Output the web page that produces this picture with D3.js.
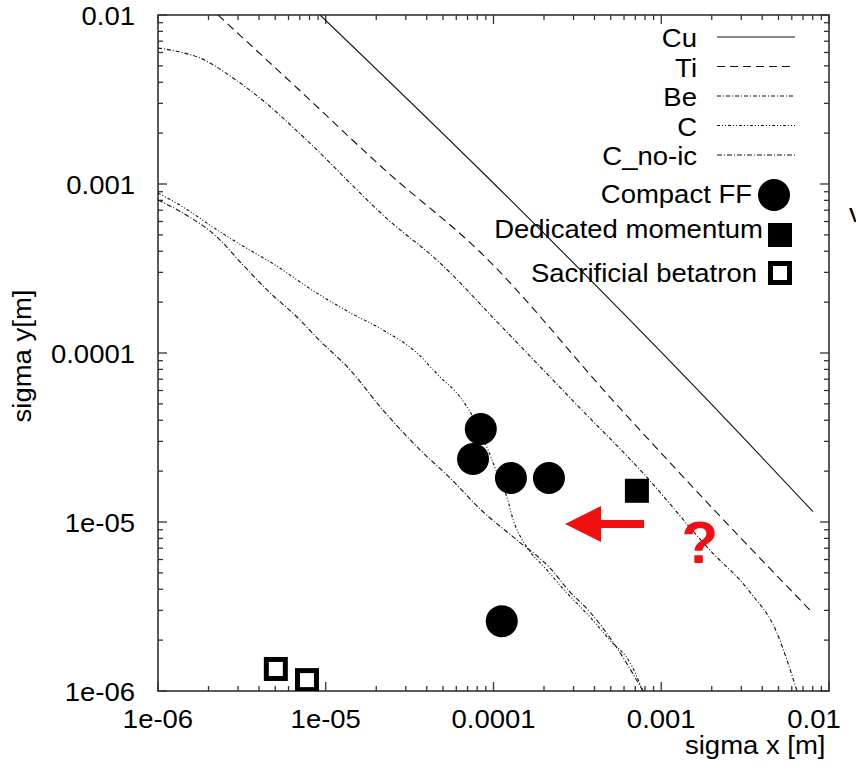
<!DOCTYPE html>
<html>
<head>
<meta charset="utf-8">
<script src="https://cdn.jsdelivr.net/npm/d3@7"></script>
<style>
  body { margin: 0; background: #fff; }
  text { font-family: "Liberation Sans", Arial, Helvetica, sans-serif; fill: #000; }
</style>
</head>
<body>
<div id="chart"></div>
<script>
// tick labels
var xTickLabels = ["1e-06", "1e-05", "0.0001", "0.001", "0.01"];
var yTickLabels = ["1e-06", "1e-05", "0.0001", "0.001", "0.01"];

// curves, [sigma x, sigma y] in metres
var cuCurve = [[9.25e-6, 1.0e-2], [8.32e-5, 1.21e-3], [1.70e-3, 5.87e-5], [8.04e-3, 1.15e-5]];
var tiCurve = [[2.28e-6, 1.0e-2], [6.74e-6, 3.70e-3], [2.32e-5, 1.18e-3], [8.32e-5, 3.96e-4],
               [5.45e-4, 4.92e-5], [2.68e-3, 8.97e-6], [7.71e-3, 3.01e-6]];
var beCurve = [[1.0e-6, 6.38e-3], [1.35e-6, 6.04e-3], [1.78e-6, 5.57e-3], [2.80e-6, 4.24e-3],
               [4.34e-6, 3.05e-3], [6.84e-6, 2.03e-3], [8.87e-6, 1.59e-3], [1.40e-5, 1.01e-3],
               [2.19e-5, 6.56e-4], [4.80e-5, 3.41e-4], [1.09e-4, 1.47e-4], [3.15e-4, 4.92e-5],
               [7.78e-4, 1.95e-5], [1.95e-3, 6.82e-6], [3.38e-3, 3.85e-6], [4.90e-3, 2.20e-6],
               [5.62e-3, 1.52e-6], [6.44e-3, 1.0e-6]];
var cCurve = [[1.0e-6, 8.85e-4], [1.41e-6, 7.31e-4], [2.25e-6, 5.35e-4], [3.53e-6, 4.06e-4],
              [4.47e-6, 3.55e-4], [8.87e-6, 2.26e-4], [1.40e-5, 1.73e-4], [2.19e-5, 1.37e-4],
              [3.50e-5, 1.00e-4], [4.80e-5, 7.21e-5], [6.31e-5, 5.50e-5], [7.55e-5, 4.18e-5],
              [9.27e-5, 2.67e-5], [1.09e-4, 1.77e-5], [1.20e-4, 1.41e-5], [1.31e-4, 1.03e-5],
              [1.58e-4, 7.11e-6], [2.03e-4, 5.35e-6], [2.74e-4, 3.80e-6], [3.76e-4, 2.74e-6],
              [4.94e-4, 2.00e-6], [6.52e-4, 1.47e-6], [7.78e-4, 1.0e-6]];
var cNoIcCurve = [[1.0e-6, 8.04e-4], [1.41e-6, 6.73e-4], [2.25e-6, 4.85e-4], [3.21e-6, 3.32e-4],
                  [4.47e-6, 2.36e-4], [7.02e-6, 1.57e-4], [8.87e-6, 1.23e-4], [1.40e-5, 7.93e-5],
                  [2.19e-5, 4.60e-5], [3.65e-5, 2.67e-5], [5.51e-5, 1.82e-5], [8.65e-5, 1.15e-5],
                  [1.38e-4, 7.82e-6], [2.17e-4, 5.35e-6], [2.86e-4, 3.85e-6], [3.76e-4, 2.93e-6],
                  [5.30e-4, 1.87e-6], [7.78e-4, 1.0e-6]];

// points
var compactFF = [[8.4e-5, 3.55e-5], [7.55e-5, 2.36e-5], [1.27e-4, 1.82e-5], [2.14e-4, 1.82e-5], [1.12e-4, 2.59e-6]];
var dedicatedMomentum = [[7.16e-4, 1.53e-5]];
var sacrificialBetatron = [[5.04e-6, 1.35e-6], [7.73e-6, 1.16e-6]];

// red annotation: arrow from tail to tip, question mark
var arrowTail = [7.9e-4, 9.73e-6], arrowTip = [2.67e-4, 9.73e-6];
var questionAt = [1.70e-3, 5.71e-6];

var W = 856, H = 766;
var plotL = 158, plotR = 829, plotT = 15, plotB = 691;

var svg = d3.select("#chart").append("svg")
  .attr("width", W).attr("height", H);

var x = d3.scaleLog().domain([1e-6, 1e-2]).range([plotL, plotR]);
var y = d3.scaleLog().domain([1e-6, 1e-2]).range([plotB, plotT]);

// helper: Helvetica in the original is a bit wider than Liberation Sans
function label(g, px, py, s, anchor, size) {
  return g.append("text")
    .attr("transform", "translate(" + px + "," + py + ") scale(1.1,1)")
    .attr("text-anchor", anchor)
    .style("font-size", size + "px")
    .text(s);
}

svg.append("clipPath").attr("id", "plotclip")
  .append("rect").attr("x", plotL).attr("y", plotT)
  .attr("width", plotR - plotL).attr("height", plotB - plotT);

// ticks on all four sides, inward
var ticks = x.ticks();
var tg = svg.append("g").attr("stroke", "#333").attr("stroke-width", 1.3);
ticks.forEach(function (t) {
  var major = Math.abs(Math.log10(t) - Math.round(Math.log10(t))) < 1e-9;
  var len = major ? 9 : 5;
  var xp = x(t), yp = y(t);
  tg.append("line").attr("x1", xp).attr("x2", xp).attr("y1", plotB).attr("y2", plotB - len);
  tg.append("line").attr("x1", xp).attr("x2", xp).attr("y1", plotT).attr("y2", plotT + len);
  tg.append("line").attr("y1", yp).attr("y2", yp).attr("x1", plotL).attr("x2", plotL + len);
  tg.append("line").attr("y1", yp).attr("y2", yp).attr("x1", plotR).attr("x2", plotR - len);
});

// frame
svg.append("rect")
  .attr("x", plotL).attr("y", plotT)
  .attr("width", plotR - plotL).attr("height", plotB - plotT)
  .attr("fill", "none").attr("stroke", "#333").attr("stroke-width", 1.6);

// tick labels
var majors = [1e-6, 1e-5, 1e-4, 1e-3, 1e-2];
majors.forEach(function (v, i) {
  var shift = (i == majors.length - 1) ? -15 : 0;
  label(svg, x(v) + shift, 728, xTickLabels[i], "middle", 25);
  label(svg, 135, y(v) + 10, yTickLabels[i], "end", 25);
});

// axis titles
label(svg, 685, 754, "sigma x [m]", "start", 25);
svg.append("text")
  .attr("transform", "translate(31,356) rotate(-90) scale(1.1,1)")
  .attr("text-anchor", "middle")
  .style("font-size", "25px")
  .text("sigma y[m]");

// curves
var line = d3.line()
  .x(function (d) { return x(d[0]); })
  .y(function (d) { return y(d[1]); })
  .curve(d3.curveMonotoneX);

var series = [
  { name: "Cu", data: cuCurve, dash: null },
  { name: "Ti", data: tiCurve, dash: "8,5" },
  { name: "Be", data: beCurve, dash: "4,2,1,2" },
  { name: "C", data: cCurve, dash: "3,2,1,2,1,2" },
  { name: "C_no-ic", data: cNoIcCurve, dash: "5,2,1,2" }
];

var cg = svg.append("g").attr("clip-path", "url(#plotclip)");
series.forEach(function (s) {
  cg.append("path")
    .attr("d", line(s.data))
    .attr("fill", "none")
    .attr("stroke", "#111")
    .attr("stroke-width", 1.1)
    .attr("stroke-dasharray", s.dash);
});

// markers
cg.selectAll(".cff").data(compactFF).enter().append("circle")
  .attr("class", "cff")
  .attr("cx", function (d) { return x(d[0]); })
  .attr("cy", function (d) { return y(d[1]); })
  .attr("r", 16)
  .attr("fill", "#000");

cg.selectAll(".dm").data(dedicatedMomentum).enter().append("rect")
  .attr("class", "dm")
  .attr("x", function (d) { return x(d[0]) - 12; })
  .attr("y", function (d) { return y(d[1]) - 12; })
  .attr("width", 24).attr("height", 24)
  .attr("fill", "#000");

cg.selectAll(".sb").data(sacrificialBetatron).enter().append("rect")
  .attr("class", "sb")
  .attr("x", function (d) { return x(d[0]) - 9.5; })
  .attr("y", function (d) { return y(d[1]) - 9.5; })
  .attr("width", 19).attr("height", 19)
  .attr("fill", "#fff").attr("stroke", "#000").attr("stroke-width", 5);

// legend
var lg = svg.append("g");
series.forEach(function (s, i) {
  var by = 47 + i * 29.5;
  label(lg, 697, by, s.name, "end", 25);
  lg.append("line")
    .attr("x1", 717).attr("x2", 795)
    .attr("y1", by - 10).attr("y2", by - 10)
    .attr("stroke", "#111").attr("stroke-width", 1.1)
    .attr("stroke-dasharray", s.dash);
});

label(lg, 752, 203, "Compact FF", "end", 25);
lg.append("circle").attr("cx", 774).attr("cy", 195).attr("r", 16).attr("fill", "#000");

label(lg, 763, 238, "Dedicated momentum", "end", 25);
lg.append("rect").attr("x", 768).attr("y", 223).attr("width", 24).attr("height", 24).attr("fill", "#000");

label(lg, 757, 282, "Sacrificial betatron", "end", 25);
lg.append("rect").attr("x", 770.5).attr("y", 263.5).attr("width", 19).attr("height", 19)
  .attr("fill", "#fff").attr("stroke", "#000").attr("stroke-width", 5);

// red arrow
var ax0 = x(arrowTip[0]), ax1 = x(arrowTail[0]), ay = y(arrowTip[1]);
var head = 36, halfHead = 18, halfShaft = 4;
svg.append("path")
  .attr("d", "M" + ax0 + "," + ay +
             "L" + (ax0 + head) + "," + (ay - halfHead) +
             "L" + (ax0 + head) + "," + (ay - halfShaft) +
             "L" + ax1 + "," + (ay - halfShaft) +
             "L" + ax1 + "," + (ay + halfShaft) +
             "L" + (ax0 + head) + "," + (ay + halfShaft) +
             "L" + (ax0 + head) + "," + (ay + halfHead) + "Z")
  .attr("fill", "#f01010");

svg.append("text")
  .attr("x", x(questionAt[0])).attr("y", y(questionAt[1]))
  .attr("text-anchor", "middle")
  .style("font-size", "60px").style("font-weight", "bold")
  .style("fill", "#f01010")
  .text("?");

// fragment of a letter cut at the right edge
label(svg, 849, 222, "v", "start", 25);
</script>
</body>
</html>
